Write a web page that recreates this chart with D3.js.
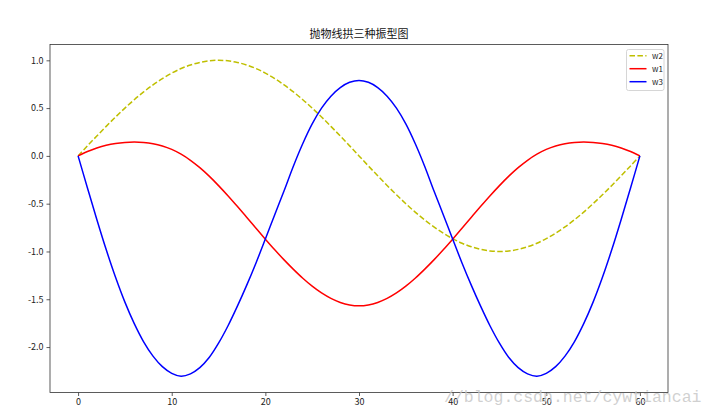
<!DOCTYPE html>
<html><head><meta charset="utf-8">
<script src="https://cdn.jsdelivr.net/npm/d3@7"></script>
<style>
body{margin:0;background:#fff;}
svg{display:block;}
</style></head>
<body>
<svg id="chart" width="714" height="416"></svg>
<script>
const title = "抛物线拱三种振型图";
const xValues = d3.range(0, 61);
const w2 = [0, .105, .208, .309, .407, .5, .588, .669, .743, .809, .866, .914, .951, .978, .995, 1.0, .995, .978, .951, .914, .866, .809, .743, .669, .588, .5, .407, .309, .208, .105, 0, -.105, -.208, -.309, -.407, -.5, -.588, -.669, -.743, -.809, -.866, -.914, -.951, -.978, -.995, -1.0, -.995, -.978, -.951, -.914, -.866, -.809, -.743, -.669, -.588, -.5, -.407, -.309, -.208, -.105, 0];
const w1 = [0, .046, .083, .111, .130, .141, .145, .141, .128, .104, .068, .018, -.046, -.123, -.212, -.311, -.417, -.528, -.642, -.757, -.871, -.982, -1.088, -1.187, -1.280, -1.363, -1.434, -1.491, -1.533, -1.559, -1.568, -1.559, -1.533, -1.491, -1.434, -1.363, -1.280, -1.187, -1.088, -.982, -.871, -.757, -.642, -.528, -.417, -.311, -.212, -.123, -.046, .018, .068, .104, .128, .141, .145, .141, .130, .111, .083, .046, 0];
const w3 = [0, -.335, -.665, -.98, -1.27, -1.53, -1.755, -1.945, -2.095, -2.205, -2.275, -2.305, -2.28, -2.215, -2.11, -1.96, -1.78, -1.575, -1.355, -1.12, -.87, -.615, -.365, -.105, .13, .335, .50, .625, .715, .77, .79, .77, .715, .625, .50, .335, .13, -.105, -.365, -.615, -.87, -1.12, -1.355, -1.575, -1.78, -1.96, -2.11, -2.215, -2.28, -2.305, -2.275, -2.205, -2.095, -1.945, -1.755, -1.53, -1.27, -.98, -.665, -.335, 0];
const xTicks = [0, 10, 20, 30, 40, 50, 60];
const yTicks = [-2.0, -1.5, -1.0, -0.5, 0.0, 0.5, 1.0];
const seriesNames = ["w2", "w1", "w3"];
const seriesColors = ["#bfbf00", "#ff0000", "#0000ff"];
const seriesData = [w2, w1, w3];
const watermark = "//blog.csdn.net/cywtiancai";

const svg = d3.select("#chart");
const L = 50, R = 668, T = 44.5, B = 392.5;
const x = d3.scaleLinear().domain([-3, 63]).range([L, R]);
const y = d3.scaleLinear().domain([-2.4755, 1.1655]).range([B, T]);
const font = "'Noto Sans CJK SC', sans-serif";

// lines
svg.append("clipPath").attr("id","clip").append("rect")
  .attr("x", L).attr("y", T).attr("width", R-L).attr("height", B-T);
const line = d3.line().x((d,i)=>x(xValues[i])).y(d=>y(d)).curve(d3.curveCatmullRom.alpha(0.5));
const g = svg.append("g").attr("clip-path","url(#clip)");
seriesData.forEach((s, k) => {
  g.append("path").datum(s).attr("d", line)
    .attr("fill","none").attr("stroke", seriesColors[k]).attr("stroke-width",1.5)
    .attr("stroke-dasharray", k===0 ? "5.5,2.4" : null);
});

// axes
const fmt = d => d3.format(".1f")(d).replace("−","-");
const xa = svg.append("g").attr("transform",`translate(0,${B})`)
  .call(d3.axisBottom(x).tickValues(xTicks).tickSize(3.5).tickPadding(3).tickFormat(d3.format("d")));
const ya = svg.append("g").attr("transform",`translate(${L},0)`)
  .call(d3.axisLeft(y).tickValues(yTicks).tickSize(3.5).tickPadding(3).tickFormat(fmt));
[xa, ya].forEach(a => {
  a.select(".domain").remove();
  a.selectAll("line").attr("stroke","#333").attr("stroke-width",0.8);
  a.selectAll("text").attr("fill","#222").style("font-family", font).style("font-size","9px");
});
svg.append("rect").attr("x",L).attr("y",T).attr("width",R-L).attr("height",B-T)
  .attr("fill","none").attr("stroke","#333").attr("stroke-width",0.8);

// title
svg.append("text").attr("x",(L+R)/2).attr("y",T-7).attr("text-anchor","middle")
  .style("font-family",font).style("font-size","11px").attr("fill","#111").text(title);

// legend
const lg = svg.append("g");
lg.append("rect").attr("x",626.5).attr("y",49.5).attr("width",37.5).attr("height",41)
  .attr("rx",2).attr("fill","#fff").attr("fill-opacity",0.8).attr("stroke","#ccc").attr("stroke-width",0.8);
seriesNames.forEach((n,k)=>{
  const yy = 55.7 + k*13;
  lg.append("line").attr("x1",629.5).attr("x2",646.5).attr("y1",yy).attr("y2",yy)
    .attr("stroke",seriesColors[k]).attr("stroke-width",1.5)
    .attr("stroke-dasharray", k===0 ? "5.5,2.4" : null);
  lg.append("text").attr("x",652).attr("y",yy+3).style("font-family",font).style("font-size","8px")
    .attr("fill","#222").text(n);
});

// watermark
svg.append("text").attr("x",444).attr("y",402).style("font-family","'Liberation Mono', monospace")
  .style("font-size","16.5px").attr("fill","#c8c8c8").attr("fill-opacity",0.85).text(watermark);
</script>
</body></html>
